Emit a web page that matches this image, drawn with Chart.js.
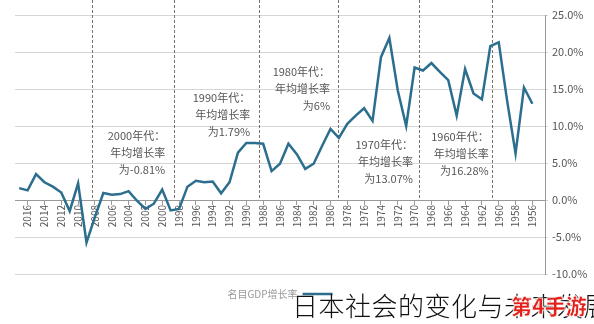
<!DOCTYPE html>
<html>
<head>
<meta charset="utf-8">
<script src="https://cdn.jsdelivr.net/npm/chart.js@4.4.1/dist/chart.umd.min.js"></script>
<style>
  html, body { margin: 0; padding: 0; background: #fff; }
  #wrap { position: relative; width: 594px; height: 324px; overflow: hidden; }
  #cap {
    position: absolute; left: 292px; top: 286px; white-space: nowrap;
    font: 300 26px "Noto Sans CJK SC", sans-serif; color: #111; letter-spacing: 0.5px;
  }
  #mark {
    position: absolute; left: 511px; top: 290px; white-space: nowrap;
    font: 900 21px "Noto Sans CJK SC", sans-serif; color: #e3211b;
    -webkit-text-stroke: 0.6px #fff; text-shadow: 0 0 2px #fff, 0 0 2px #fff;
  }
</style>
</head>
<body>
<div id="wrap">
  <canvas id="c" width="594" height="324"></canvas>
  <div id="cap">日本社会的变化与未来发展</div>
  <div id="mark">第4手游</div>
</div>
<script>
// 日本名目GDP增长率（%），1956–2017，图是镜像排版：年份从右往左
const years = [
  1956, 1957, 1958, 1959, 1960, 1961, 1962, 1963, 1964, 1965,
  1966, 1967, 1968, 1969, 1970, 1971, 1972, 1973, 1974, 1975,
  1976, 1977, 1978, 1979, 1980, 1981, 1982, 1983, 1984, 1985,
  1986, 1987, 1988, 1989, 1990, 1991, 1992, 1993, 1994, 1995,
  1996, 1997, 1998, 1999, 2000, 2001, 2002, 2003, 2004, 2005,
  2006, 2007, 2008, 2009, 2010, 2011, 2012, 2013, 2014, 2015,
  2016, 2017,
];
const growth = [
  13.0, 15.2, 6.3, 13.4, 21.3, 20.8, 13.6, 14.4, 17.7, 11.4,
  16.2, 17.3, 18.5, 17.5, 17.9, 10.0, 14.8, 21.9, 19.3, 10.7,
  12.4, 11.4, 10.3, 8.4, 9.6, 7.3, 4.9, 4.2, 6.2, 7.6,
  4.9, 3.9, 7.6, 7.7, 7.7, 6.4, 2.4, 0.9, 2.5, 2.4,
  2.6, 1.8, -1.2, -1.4, 1.4, -0.5, -1.2, -0.1, 1.2, 0.8,
  0.7, 0.95, -2.3, -5.75, 2.25, -1.5, 1.0, 1.8, 2.4, 3.5,
  1.3, 1.6,
];
const tickYears = [
  1956, 1958, 1960, 1962, 1964, 1966, 1968, 1970, 1972, 1974, 1976,
  1978, 1980, 1982, 1984, 1986, 1988, 1990, 1992, 1994, 1996, 1998,
  2000, 2002, 2004, 2006, 2008, 2010, 2012, 2014, 2016,
];
const seriesLabel = '名目GDP增长率';

// 年代分隔虚线（年份坐标）
const decadeBreaks = [1960.8, 1969.5, 1979.1, 1988.5, 1998.6, 2008.35];
// 年代注释：右端年份、首行数值、文字
const noteYears = [1961.2, 1970.2, 1980.05, 1989.55, 1999.65];
const noteTops = [8.5, 7.4, 17.3, 13.8, 8.7];
const noteTexts = [
  ['1960年代：', '年均增长率', '为16.28%'],
  ['1970年代：', '年均增长率', '为13.07%'],
  ['1980年代：', '年均增长率', '为6%'],
  ['1990年代：', '年均增长率', '为1.79%'],
  ['2000年代：', '年均增长率', '为-0.81%'],
];

const FONT = '"Noto Sans CJK SC", sans-serif';
const LINE = '#2c6e8d';

const decadePlugin = {
  id: 'decades',
  beforeDatasetsDraw(chart) {
    const c = chart.ctx, x = chart.scales.x, y = chart.scales.y;
    const bottom = y.getPixelForValue(0);
    c.save();
    c.strokeStyle = '#7b6f66';
    c.lineWidth = 1;
    c.setLineDash([3, 2]);
    decadeBreaks.forEach((yr) => {
      const px = Math.round(x.getPixelForValue(yr)) + 0.5;
      c.beginPath(); c.moveTo(px, 0); c.lineTo(px, bottom); c.stroke();
    });
    c.restore();
  },
  afterDatasetsDraw(chart) {
    const c = chart.ctx, x = chart.scales.x, y = chart.scales.y;
    c.save();
    c.font = '11px ' + FONT;
    c.fillStyle = '#555';
    c.textAlign = 'right';
    c.textBaseline = 'middle';
    noteTexts.forEach((lines, i) => {
      const px = x.getPixelForValue(noteYears[i]);
      const py = y.getPixelForValue(noteTops[i]);
      lines.forEach((t, j) => c.fillText(t, px, py + j * 17));
    });
    c.restore();
  },
};

new Chart(document.getElementById('c'), {
  type: 'line',
  data: {
    datasets: [{
      label: seriesLabel,
      data: years.map((yr, i) => ({ x: yr, y: growth[i] })),
      borderColor: LINE,
      backgroundColor: LINE,
      borderWidth: 2.5,
      pointRadius: 0,
      tension: 0,
    }],
  },
  plugins: [decadePlugin],
  options: {
    responsive: false,
    animation: false,
    layout: { padding: { left: 15, top: 15, right: 0, bottom: 15 } },
    plugins: {
      legend: {
        position: 'bottom',
        fullSize: false,
        rtl: true,
        textDirection: 'ltr',
        labels: {
          usePointStyle: true, pointStyle: 'line', pointStyleWidth: 30,
          color: '#999', font: { family: FONT, size: 10 }, padding: 15,
        },
      },
      tooltip: { enabled: false },
    },
    scales: {
      x: {
        type: 'linear',
        reverse: true,
        min: 1954.5, max: 2017.5,
        position: { y: 0 },
        afterBuildTicks: (axis) => { axis.ticks = tickYears.map((v) => ({ value: v })); },
        ticks: {
          autoSkip: false, maxRotation: 90, minRotation: 90, padding: 1,
          color: '#555', font: { family: FONT, size: 10 },
          callback: (v) => String(v),
        },
        grid: { display: true, drawOnChartArea: false, drawTicks: true, tickLength: 4, color: '#999' },
        border: { color: '#999' },
      },
      y: {
        position: 'right',
        min: -10, max: 25,
        afterFit: (s) => { s.width = 49; },
        ticks: {
          stepSize: 5, padding: 4, color: '#555', font: { family: FONT, size: 11 },
          callback: (v) => v.toFixed(1) + '%',
        },
        grid: { color: '#d6d6d6', tickLength: 3 },
        border: { color: '#999' },
      },
    },
  },
});
</script>
</body>
</html>
